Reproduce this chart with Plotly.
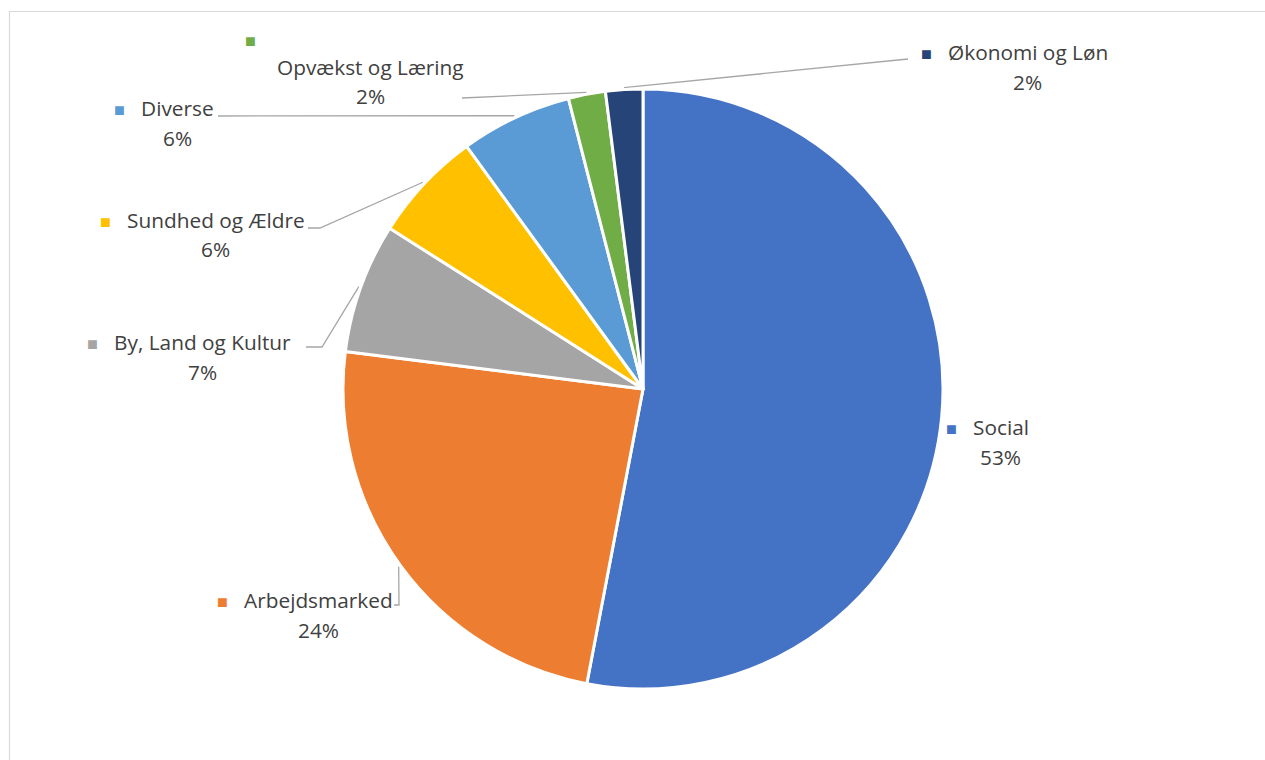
import math
import plotly.graph_objects as go

# Shares per area (percent), clockwise from 12 o'clock
categories = ["Social", "Arbejdsmarked", "By, Land og Kultur", "Sundhed og Ældre",
              "Diverse", "Opvækst og Læring", "Økonomi og Løn"]
values = [53, 24, 7, 6, 6, 2, 2]
colors = ["#4472C4", "#ED7D31", "#A5A5A5", "#FFC000", "#5B9BD5", "#70AD47", "#264478"]

W, H = 1265, 760
CX, CY, R = 643, 389, 300          # pie centre and radius in pixels
TEXT = "#404040"
LEADER = "#A6A6A6"
FONT = "Open Sans"
FONT_SIZE = 20.8
KEY_SIZE = 18

# Label layout: centre of the name line (incl. key), y of name line, y of percent line
label_pos = {
    "Social":             (987, 427, 457),
    "Arbejdsmarked":      (305, 600, 630),
    "By, Land og Kultur": (189, 342, 372),
    "Sundhed og Ældre":   (202, 220, 249),
    "Diverse":            (164, 108, 138),
    "Opvækst og Læring":  (370, 67, 96),
    "Økonomi og Løn":     (1014, 52, 82),
}
# Extra bend points of the leader lines, ending at the label
leader_bends = {
    "Arbejdsmarked":      [(399, 605), (394, 605)],
    "By, Land og Kultur": [(322, 347), (306, 347)],
    "Sundhed og Ældre":   [(320, 228), (308, 228)],
    "Diverse":            [(218, 116)],
    "Opvækst og Læring":  [(462, 98)],
    "Økonomi og Løn":     [(908, 59)],
}
# Opvækst og Læring has its legend key wrapped onto its own line
wrapped_key = {"Opvækst og Læring": (250, 40)}

fig = go.Figure()

fig.add_trace(go.Pie(
    labels=categories, values=values, sort=False, direction="clockwise", rotation=0,
    marker=dict(colors=colors, line=dict(color="white", width=3)),
    textinfo="none", hoverinfo="label+percent", showlegend=False,
    domain=dict(x=[(CX - R) / W, (CX + R) / W], y=[1 - (CY + R) / H, 1 - (CY - R) / H]),
))

# Leader lines: from the outer rim at each slice's mid-angle to its label
total = sum(values)
cum = 0
for name, v in zip(categories, values):
    mid = (cum + v / 2) / total * 2 * math.pi
    cum += v
    if name not in leader_bends:
        continue
    rx = CX + (R + 2) * math.sin(mid)
    ry = CY - (R + 2) * math.cos(mid)
    pts = [(rx, ry)] + leader_bends[name]
    fig.add_trace(go.Scatter(
        x=[p[0] for p in pts], y=[p[1] for p in pts], mode="lines",
        line=dict(color=LEADER, width=1.3), hoverinfo="skip", showlegend=False,
    ))


def key(color, gap=True):
    glyph = f'<span style="color:{color};font-size:{KEY_SIZE}px">■</span>'
    return glyph + ("&nbsp;&nbsp;&nbsp;" if gap else "")


annotations = []
for name, v, c in zip(categories, values, colors):
    x, y1, y2 = label_pos[name]
    pct = f"{round(v / total * 100)}%"
    if name in wrapped_key:
        kx, ky = wrapped_key[name]
        annotations.append(dict(x=kx, y=ky, xref="x", yref="y", text=key(c, gap=False),
                                showarrow=False, xanchor="center", yanchor="middle",
                                font=dict(family=FONT, size=FONT_SIZE, color=TEXT)))
        line1, line2 = name, pct
    else:
        line1 = key(c) + name
        line2 = key("rgba(0,0,0,0)") + pct
    for txt, yy in ((line1, y1), (line2, y2)):
        annotations.append(dict(x=x, y=yy, xref="x", yref="y", text=txt, showarrow=False,
                                xanchor="center", yanchor="middle",
                                font=dict(family=FONT, size=FONT_SIZE, color=TEXT)))

fig.update_layout(
    width=W, height=H, margin=dict(l=0, r=0, t=0, b=0),
    paper_bgcolor="white", plot_bgcolor="rgba(0,0,0,0)",
    xaxis=dict(range=[0, W], visible=False, domain=[0, 1], fixedrange=True),
    yaxis=dict(range=[H, 0], visible=False, domain=[0, 1], fixedrange=True),
    annotations=annotations,
    shapes=[dict(type="rect", xref="x", yref="y", x0=9.5, x1=W + 5, y0=11.5, y1=H + 5,
                 line=dict(color="#D9D9D9", width=1.2), fillcolor="rgba(0,0,0,0)", layer="below")],
)

fig.write_html("out.html")
